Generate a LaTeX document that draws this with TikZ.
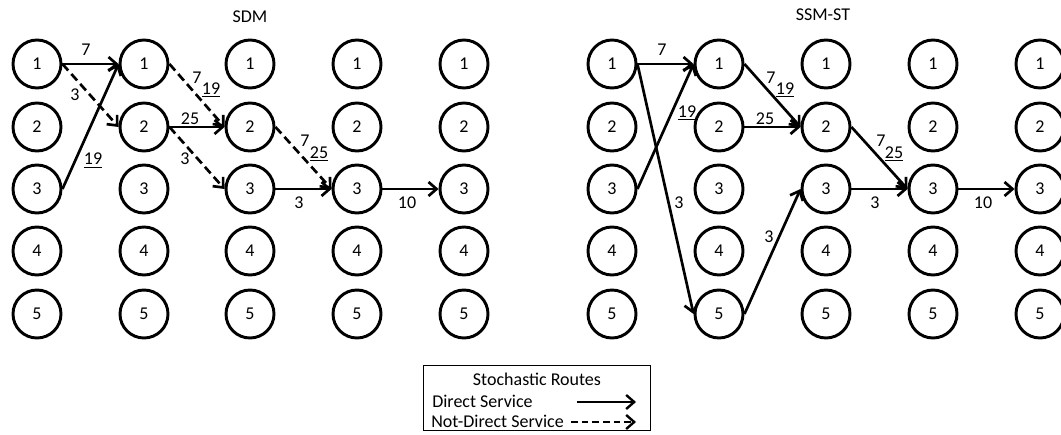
\documentclass[tikz,border=0pt]{standalone}
\usepackage{fontspec}
\setmainfont{Carlito}
\usetikzlibrary{arrows.meta}

\tikzset{
  stop/.style={draw, circle, line width=2.2pt, minimum size=36pt, inner sep=0pt},
  route/.style={line width=2pt, -{Straight Barb[length=6pt, width=10.5pt]}},
  detour/.style={route, dash pattern=on 6.5pt off 3.5pt},
  wt/.style={inner sep=0pt, anchor=base}
}

\begin{document}
\begin{tikzpicture}[x=0.75pt, y=-0.75pt, font=\fontsize{13.5pt}{16pt}\selectfont]

				\useasboundingbox (0, 0) rectangle (1061, 435);

				\node [inner sep=0pt] (sdmtitle) at (250, 17) {SDM};
				\node [inner sep=0pt] (ssmtitle) at (823, 15) {SSM-ST};

				% SDM, first period
				\node [stop] (sdm11) at (37, 64) {1};
				\node [stop] (sdm12) at (37, 127) {2};
				\node [stop] (sdm13) at (37, 189) {3};
				\node [stop] (sdm14) at (37, 251) {4};
				\node [stop] (sdm15) at (37, 314) {5};

				\node [stop] (sdm21) at (144, 64) {1};
				\node [stop] (sdm22) at (144, 127) {2};
				\node [stop] (sdm23) at (144, 189) {3};
				\node [stop] (sdm24) at (144, 251) {4};
				\node [stop] (sdm25) at (144, 314) {5};

				\node [stop] (sdm31) at (250, 64) {1};
				\node [stop] (sdm32) at (250, 127) {2};
				\node [stop] (sdm33) at (250, 189) {3};
				\node [stop] (sdm34) at (250, 251) {4};
				\node [stop] (sdm35) at (250, 314) {5};

				\node [stop] (sdm41) at (357, 64) {1};
				\node [stop] (sdm42) at (357, 127) {2};
				\node [stop] (sdm43) at (357, 189) {3};
				\node [stop] (sdm44) at (357, 251) {4};
				\node [stop] (sdm45) at (357, 314) {5};

				\node [stop] (sdm51) at (464, 64) {1};
				\node [stop] (sdm52) at (464, 127) {2};
				\node [stop] (sdm53) at (464, 189) {3};
				\node [stop] (sdm54) at (464, 251) {4};
				\node [stop] (sdm55) at (464, 314) {5};

				% SSM-ST
				\node [stop] (ssm11) at (612, 64) {1};
				\node [stop] (ssm12) at (612, 127) {2};
				\node [stop] (ssm13) at (612, 189) {3};
				\node [stop] (ssm14) at (612, 251) {4};
				\node [stop] (ssm15) at (612, 314) {5};

				\node [stop] (ssm21) at (719, 64) {1};
				\node [stop] (ssm22) at (719, 127) {2};
				\node [stop] (ssm23) at (719, 189) {3};
				\node [stop] (ssm24) at (719, 251) {4};
				\node [stop] (ssm25) at (719, 314) {5};

				\node [stop] (ssm31) at (826, 64) {1};
				\node [stop] (ssm32) at (826, 127) {2};
				\node [stop] (ssm33) at (826, 189) {3};
				\node [stop] (ssm34) at (826, 251) {4};
				\node [stop] (ssm35) at (826, 314) {5};

				\node [stop] (ssm41) at (933, 64) {1};
				\node [stop] (ssm42) at (933, 127) {2};
				\node [stop] (ssm43) at (933, 189) {3};
				\node [stop] (ssm44) at (933, 251) {4};
				\node [stop] (ssm45) at (933, 314) {5};

				\node [stop] (ssm51) at (1040, 64) {1};
				\node [stop] (ssm52) at (1040, 127) {2};
				\node [stop] (ssm53) at (1040, 189) {3};
				\node [stop] (ssm54) at (1040, 251) {4};
				\node [stop] (ssm55) at (1040, 314) {5};

				% routes, SDM
				\draw [route] (sdm11.east) -- (sdm21.west);
				\draw [detour] (sdm11.east) -- (sdm22.west);
				\draw [route] (sdm13.east) -- (sdm21.west);
				\draw [detour] (sdm21.east) -- (sdm32.west);
				\draw [route] (sdm22.east) -- (sdm32.west);
				\draw [detour] (sdm22.east) -- (sdm33.west);
				\draw [detour] (sdm32.east) -- (sdm43.west);
				\draw [route] (sdm33.east) -- (sdm43.west);
				\draw [route] (sdm43.east) -- (sdm53.west);

				\node [wt] (sdmw1) at (86, 55.5) {7};
				\node [wt] (sdmw2) at (75, 101) {3};
				\node [wt] (sdmw3) at (93, 165) {\underline{19}};
				\node [wt] (sdmw4) at (197, 83.5) {7};
				\node [wt] (sdmw5) at (211, 94.5) {\underline{19}};
				\node [wt] (sdmw6) at (190, 124.5) {\underline{25}};
				\node [wt] (sdmw7) at (185, 165) {3};
				\node [wt] (sdmw8) at (305, 146.5) {7};
				\node [wt] (sdmw9) at (319, 158.5) {\underline{25}};
				\node [wt] (sdmw10) at (299, 208.5) {3};
				\node [wt] (sdmw11) at (407, 208.5) {10};

				% routes, SSM-ST
				\draw [route] (ssm11.east) -- (ssm21.west);
				\draw [route] (ssm11.east) -- (ssm25.west);
				\draw [route] (ssm13.east) -- (ssm21.west);
				\draw [route] (ssm21.east) -- (ssm32.west);
				\draw [route] (ssm22.east) -- (ssm32.west);
				\draw [route] (ssm25.east) -- (ssm33.west);
				\draw [route] (ssm32.east) -- (ssm43.west);
				\draw [route] (ssm33.east) -- (ssm43.west);
				\draw [route] (ssm43.east) -- (ssm53.west);

				\node [wt] (ssmw1) at (662, 55.5) {7};
				\node [wt] (ssmw2) at (687, 117.5) {\underline{19}};
				\node [wt] (ssmw3) at (679, 208.5) {3};
				\node [wt] (ssmw4) at (771, 83.5) {7};
				\node [wt] (ssmw5) at (785, 94.5) {\underline{19}};
				\node [wt] (ssmw6) at (765, 124.5) {\underline{25}};
				\node [wt] (ssmw7) at (769, 242.5) {3};
				\node [wt] (ssmw8) at (881, 146.5) {7};
				\node [wt] (ssmw9) at (894, 158.5) {\underline{25}};
				\node [wt] (ssmw10) at (875, 208.5) {3};
				\node [wt] (ssmw11) at (983, 208.5) {10};

				% legend
				\node [draw, line width=0.8pt, minimum width=170pt, minimum height=49pt] (legend) at (537, 398) {};
				\node [wt] (legtitle) at (537, 385.5) {Stochastic Routes};
				\node [wt, anchor=base west] (legdirect) at (432, 407.5) {Direct Service};
				\node [wt, anchor=base west] (legindirect) at (431, 427.5) {Not-Direct Service};
				\coordinate (dirfrom) at (577, 402);
				\coordinate (dirto) at (636, 402);
				\coordinate (indfrom) at (571, 422);
				\coordinate (indto) at (636, 422);
				\draw [route, line width=1.8pt] (dirfrom) -- (dirto);
				\draw [detour, line width=1.8pt, dash pattern=on 5pt off 3pt] (indfrom) -- (indto);
		\end{tikzpicture}
\end{document}
